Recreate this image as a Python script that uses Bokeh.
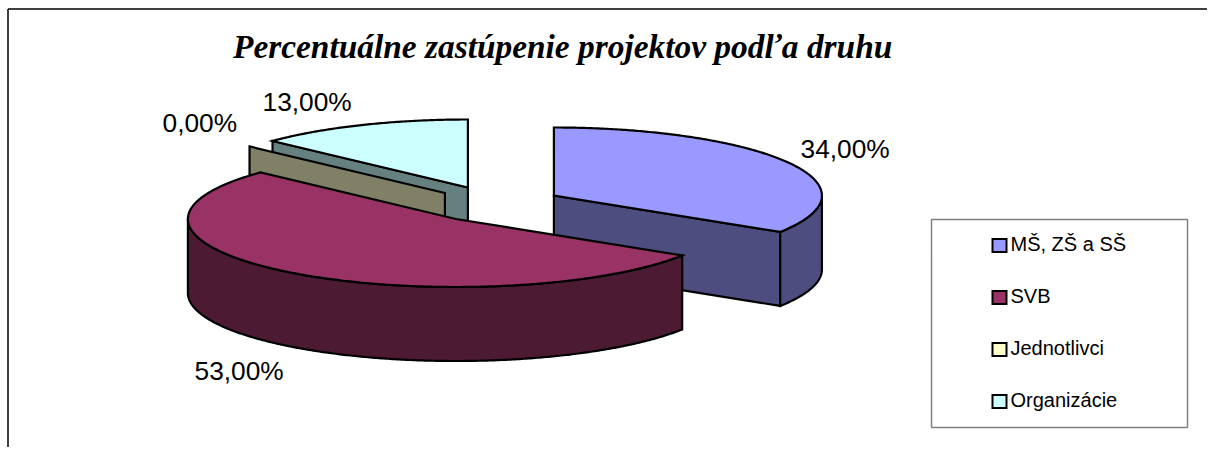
import math
from bokeh.plotting import figure
from bokeh.models import Range1d, ColumnDataSource
from bokeh.core.properties import value
from bokeh.embed import file_html
from bokeh.resources import INLINE

TITLE = "Percentuálne zastúpenie projektov podľa druhu"
categories = ["MŠ, ZŠ a SŠ", "SVB", "Jednotlivci", "Organizácie"]
values = [34.0, 53.0, 0.0, 13.0]
top_colors = ["#9999FF", "#993366", "#FFFFCC", "#CCFFFF"]
wall_colors = ["#4D4D80", "#4D1A33", "#808066", "#668080"]

# Geometry of the tilted pie, in picture pixels
RX, RY, DEPTH = 268, 68, 74
centers = [(553.4, 195), (455.4, 218.5), (444.4, 192.5), (467.4, 187)]
label_pos = [(800, 148), (194, 370.5), (162, 122.5), (262, 101.5)]

p = figure(width=1207, height=447, output_backend="svg", toolbar_location=None,
           x_range=Range1d(0, 1207), y_range=Range1d(447, 0),
           min_border=0, outline_line_color=None, background_fill_color="white",
           border_fill_color="white")
p.axis.visible = False
p.grid.visible = False


def pt(c, deg, dz=0):
    t = math.radians(deg)
    return c[0] + RX * math.sin(t), c[1] - RY * math.cos(t) + dz


def arc(c, a, b, dz=0):
    n = max(2, int(abs(b - a) * 2) + 2)
    return [pt(c, a + (b - a) * i / (n - 1), dz) for i in range(n)]


def poly(points, fill):
    p.patch([q[0] for q in points], [q[1] for q in points], fill_color=fill,
            line_color="black", line_width=2.2, line_join="miter")


# slice angles, clockwise from 12 o'clock
starts, acc = [], 0.0
for v in values:
    starts.append(acc)
    acc += v * 3.6
ends = [s + v * 3.6 for s, v in zip(starts, values)]


def cut_wall(c, deg):
    e = pt(c, deg)
    return [c, e, (e[0], e[1] + DEPTH), (c[0], c[1] + DEPTH)]


# back to front: Organizácie, Jednotlivci, MŠ, SVB
i = 3
poly(cut_wall(centers[i], starts[i]), wall_colors[i])
poly([centers[i]] + arc(centers[i], starts[i], ends[i]), top_colors[i])

i = 2
poly(cut_wall(centers[i], starts[i]), wall_colors[i])

i = 0
poly(cut_wall(centers[i], ends[i]), wall_colors[i])
poly(arc(centers[i], 90, ends[i]) + arc(centers[i], ends[i], 90, DEPTH), wall_colors[i])
poly([centers[i]] + arc(centers[i], starts[i], ends[i]), top_colors[i])

i = 1
poly(arc(centers[i], starts[i], 270) + arc(centers[i], 270, starts[i], DEPTH), wall_colors[i])
poly([centers[i]] + arc(centers[i], starts[i], ends[i]), top_colors[i])

# chart frame
p.line([7.5, 7.5], [447, 8.5], line_color="black", line_width=1.5)
p.line([7.5, 1207], [8.5, 8.5], line_color="black", line_width=1.5)

# title
p.text([232.5], [46], text=[TITLE], text_font=value("Liberation Serif"),
       text_font_style="bold italic", text_font_size="33.4px", text_color="black",
       text_align="left", text_baseline="alphabetic")

# data labels
labels = [f"{v:.2f}%".replace(".", ",") for v in values]
lab = ColumnDataSource(dict(x=[q[0] for q in label_pos], y=[q[1] for q in label_pos], t=labels))
p.text("x", "y", text="t", source=lab, text_font=value("Liberation Sans"),
       text_font_size="26.3px", text_color="black", text_align="left", text_baseline="alphabetic")

# legend
p.quad(left=[931], right=[1187], top=[219], bottom=[427], fill_color="white",
       line_color="#808080", line_width=1.5)
leg_y = [245, 297, 349, 401]
p.quad(left=[992] * 4, right=[1006] * 4, top=[y - 6.5 for y in leg_y], bottom=[y + 6.5 for y in leg_y],
       fill_color=top_colors, line_color="black", line_width=2, line_join="miter")
p.text([1010] * 4, [y - 2 for y in leg_y], text=categories, text_font=value("Liberation Sans"),
       text_font_size="20px", text_color="black", text_align="left", text_baseline="alphabetic")

open("out.html", "w").write(file_html(p, INLINE))
